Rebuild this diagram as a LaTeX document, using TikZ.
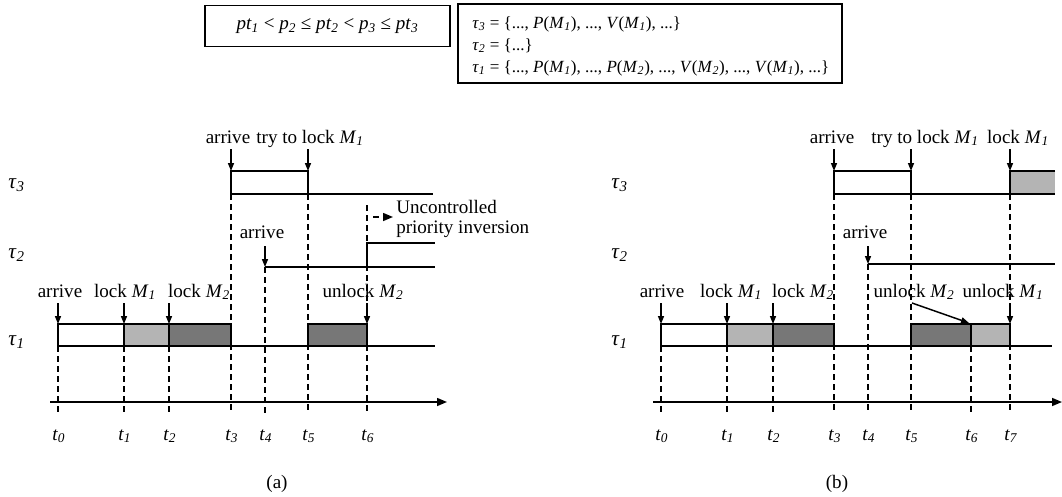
\documentclass[tikz,border=0pt]{standalone}
\usepackage{fontspec}
\setmainfont{Liberation Serif}
\usetikzlibrary{arrows.meta}
\definecolor{lgray}{HTML}{B4B4B4}
\definecolor{dgray}{HTML}{777777}
\newcommand{\ix}[2]{\textit{#1}\textsubscript{\textit{#2}}}
\begin{document}
\begin{tikzpicture}[x=0.75pt,y=-0.75pt, font=\fontsize{14.3}{16}\selectfont,
  lbl/.style={anchor=base, inner sep=0pt},
  tau/.style={anchor=base west, inner sep=0pt, font=\fontsize{16}{18}\selectfont},
  settxt/.style={anchor=base west, inner sep=0pt, font=\fontsize{12.8}{15}\selectfont},
  evt/.style={-{Triangle[length=6pt,width=4.5pt]}, line width=1.1pt},
  guide/.style={line width=1.1pt, dash pattern=on 4.5pt off 3pt},
  row/.style={line width=1.4pt},
  seg/.style={draw, line width=1.4pt},
  axis/.style={line width=1.1pt, -{Triangle[length=7.5pt,width=6pt]}},
  frame/.style={draw, line width=1.1pt, inner sep=0pt}]
\useasboundingbox (0,0) rectangle (1062,496);

% ---------- top boxes ----------
\node[frame, minimum width=183.75pt, minimum height=30.75pt] (cond) at (327.5,26)
  {\ix{pt}{1} < \ix{p}{2} ≤ \ix{pt}{2} < \ix{p}{3} ≤ \ix{pt}{3}};
\node[frame, minimum width=288pt, minimum height=59.25pt] (sets) at (650,43.5) {};
\node[settxt] (s3) at (472,28) {\ix{τ}{3} = \{..., \textit{P}(\ix{M}{1}), ..., \textit{V}(\ix{M}{1}), ...\}};
\node[settxt] (s2) at (472,50) {\ix{τ}{2} = \{...\}};
\node[settxt] (s1) at (472,72) {\ix{τ}{1} = \{..., \textit{P}(\ix{M}{1}), ..., \textit{P}(\ix{M}{2}), ..., \textit{V}(\ix{M}{2}), ..., \textit{V}(\ix{M}{1}), ...\}};

% ================= (a) =================
\node[tau] (aT3) at (8,188) {\ix{τ}{3}};
\node[tau] (aT2) at (8,258) {\ix{τ}{2}};
\node[tau] (aT1) at (8,345) {\ix{τ}{1}};
% guides
\draw[guide] (58,346) -- (58,414);
\draw[guide] (124,346) -- (124,414);
\draw[guide] (169,346) -- (169,414);
\draw[guide] (231,194) -- (231,414);
\draw[guide] (265,267) -- (265,414);
\draw[guide] (308,194) -- (308,414);
\draw[guide] (367,205) -- (367,414);
% axis
\coordinate (aAx0) at (50,402);
\coordinate (aAx1) at (447,402);
\draw[axis] (aAx0) -- (aAx1);
% task rows
\draw[row] (58,346) -- (435,346);
\draw[seg, fill=white] (58,324) rectangle (124,346);
\draw[seg, fill=lgray] (124,324) rectangle (169,346);
\draw[seg, fill=dgray] (169,324) rectangle (231,346);
\draw[seg, fill=dgray] (308,324) rectangle (367,346);
\draw[row] (265,267) -- (435,267);
\draw[row] (367,267) -- (367,243) -- (435,243);
\draw[row] (231,194) -- (433,194);
\draw[seg, fill=white] (231,171) rectangle (308,194);
% events
\node[lbl] (aA3) at (228,143) {arrive};
\node[lbl] (aL3) at (310,143) {try to lock \ix{M}{1}};
\draw[evt] (231,149) -- (231,171);
\draw[evt] (308,149) -- (308,171);
\node[lbl] (aA2) at (262,238) {arrive};
\draw[evt] (265,246) -- (265,267);
\node[lbl] (aA1) at (60,297) {arrive};
\node[lbl] (aM1) at (125,297) {lock \ix{M}{1}};
\node[lbl] (aM2) at (199,297) {lock \ix{M}{2}};
\node[lbl] (aU2) at (363,297) {unlock \ix{M}{2}};
\draw[evt] (58,303) -- (58,324);
\draw[evt] (124,303) -- (124,324);
\draw[evt] (169,303) -- (169,324);
\draw[evt] (367,303) -- (367,324);
% uncontrolled priority inversion
\coordinate (uS) at (373,217);
\coordinate (uE) at (393,217);
\draw[guide, -{Triangle[length=7.5pt,width=6pt]}] (uS) -- (uE);
\node[lbl, anchor=base west] (unc1) at (396,213) {Uncontrolled};
\node[lbl, anchor=base west] (unc2) at (396,233) {priority inversion};
% tick labels
\node[lbl, anchor=base west] at (52,440) {\ix{t}{0}};
\node[lbl, anchor=base west] at (118,440) {\ix{t}{1}};
\node[lbl, anchor=base west] at (163,440) {\ix{t}{2}};
\node[lbl, anchor=base west] at (225,440) {\ix{t}{3}};
\node[lbl, anchor=base west] at (259,440) {\ix{t}{4}};
\node[lbl, anchor=base west] at (302,440) {\ix{t}{5}};
\node[lbl, anchor=base west] at (361,440) {\ix{t}{6}};
\node[lbl] (capa) at (277,488) {(a)};

% ================= (b) =================
\node[tau] (bT3) at (611,188) {\ix{τ}{3}};
\node[tau] (bT2) at (611,258) {\ix{τ}{2}};
\node[tau] (bT1) at (611,345) {\ix{τ}{1}};
% guides
\draw[guide] (661,346) -- (661,414);
\draw[guide] (727,346) -- (727,414);
\draw[guide] (773,346) -- (773,414);
\draw[guide] (834,194) -- (834,414);
\draw[guide] (868,264) -- (868,414);
\draw[guide] (911,194) -- (911,414);
\draw[guide] (971,346) -- (971,414);
\draw[guide] (1010,194) -- (1010,414);
% axis
\coordinate (bAx0) at (653,402);
\coordinate (bAx1) at (1062,402);
\draw[axis] (bAx0) -- (bAx1);
% task rows
\draw[row] (661,346) -- (1052,346);
\draw[seg, fill=white] (661,324) rectangle (727,346);
\draw[seg, fill=lgray] (727,324) rectangle (773,346);
\draw[seg, fill=dgray] (773,324) rectangle (834,346);
\draw[seg, fill=dgray] (911,324) rectangle (971,346);
\draw[seg, fill=lgray] (971,324) rectangle (1010,346);
\draw[row] (868,264) -- (1055,264);
\draw[row] (834,194) -- (1055,194);
\draw[seg, fill=white] (834,171) rectangle (911,194);
\fill[lgray] (1010,171) rectangle (1055,194);
\draw[row] (1055,171) -- (1010,171) -- (1010,194) -- (1055,194);
% events
\node[lbl] (bA3) at (832,143) {arrive};
\node[lbl] (bL3) at (925,143) {try to lock \ix{M}{1}};
\node[lbl] (bK3) at (1018,143) {lock \ix{M}{1}};
\draw[evt] (834,149) -- (834,171);
\draw[evt] (911,149) -- (911,171);
\draw[evt] (1010,149) -- (1010,171);
\node[lbl] (bA2) at (865,238) {arrive};
\draw[evt] (868,246) -- (868,264);
\node[lbl] (bA1) at (662,297) {arrive};
\node[lbl] (bM1) at (731,297) {lock \ix{M}{1}};
\node[lbl] (bM2) at (803,297) {lock \ix{M}{2}};
\node[lbl] (bU2) at (914,297) {unlock \ix{M}{2}};
\node[lbl] (bU1) at (1003,297) {unlock \ix{M}{1}};
\draw[evt] (661,303) -- (661,324);
\draw[evt] (727,303) -- (727,324);
\draw[evt] (773,303) -- (773,324);
\draw[evt] (912,303) -- (969,323);
\draw[evt] (1010,303) -- (1010,324);
% tick labels
\node[lbl, anchor=base west] at (655,440) {\ix{t}{0}};
\node[lbl, anchor=base west] at (721,440) {\ix{t}{1}};
\node[lbl, anchor=base west] at (767,440) {\ix{t}{2}};
\node[lbl, anchor=base west] at (828,440) {\ix{t}{3}};
\node[lbl, anchor=base west] at (862,440) {\ix{t}{4}};
\node[lbl, anchor=base west] at (905,440) {\ix{t}{5}};
\node[lbl, anchor=base west] at (965,440) {\ix{t}{6}};
\node[lbl, anchor=base west] at (1004,440) {\ix{t}{7}};
\node[lbl] (capb) at (837,488) {(b)};
\end{tikzpicture}
\end{document}
